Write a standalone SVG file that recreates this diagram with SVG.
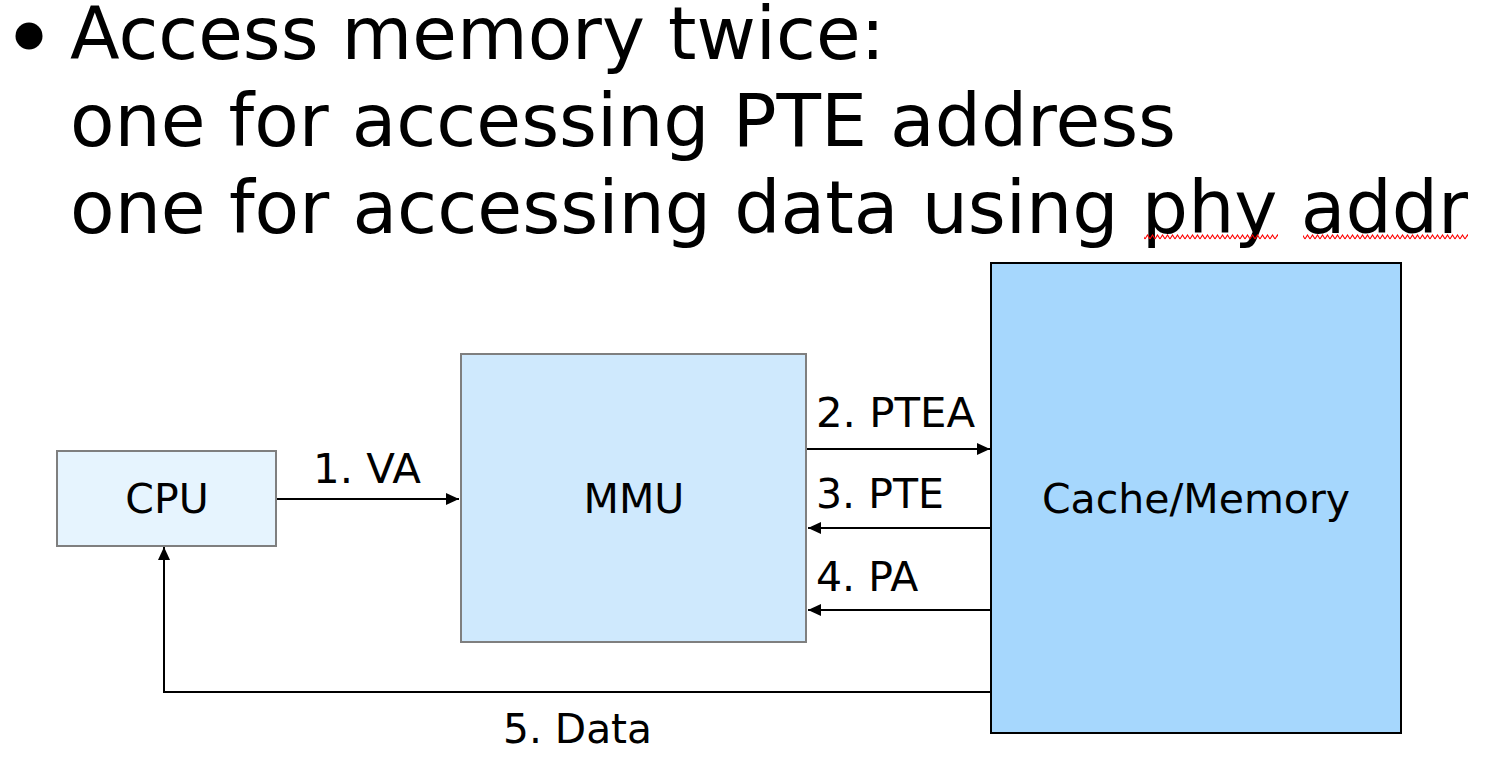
<svg xmlns="http://www.w3.org/2000/svg" width="1510" height="780" viewBox="0 0 1510 780">
  <style>
    .title { font-family: "DejaVu Sans", Verdana, sans-serif; font-size: 73px; fill: #000; }
    .lbl { font-family: "DejaVu Sans", Verdana, sans-serif; font-size: 41px; fill: #000; }
    .mid { text-anchor: middle; }
    .conn { stroke: #000; stroke-width: 2; fill: none; }
  </style>
  <defs>
    <marker id="arr" viewBox="0 0 13 12" refX="13" refY="6" markerWidth="13" markerHeight="12" markerUnits="userSpaceOnUse" orient="auto">
      <path d="M0,0 L13,6 L0,12 Z" fill="#000"/>
    </marker>
    <pattern id="zig" x="0" y="234" width="5" height="6" patternUnits="userSpaceOnUse">
      <path d="M0,5 L2.5,1 L5,5" stroke="#ff0000" stroke-width="1.1" fill="none"/>
    </pattern>
  </defs>
  <rect width="1510" height="780" fill="#ffffff"/>

  <g id="title">
    <circle cx="29" cy="36" r="13.5" fill="#000"/>
    <text class="title" x="70" y="59" textLength="815" lengthAdjust="spacingAndGlyphs">Access memory twice:</text>
    <text class="title" x="70" y="146" textLength="1106" lengthAdjust="spacingAndGlyphs">one for accessing PTE address</text>
    <text class="title" x="70" y="233" textLength="1398" lengthAdjust="spacingAndGlyphs">one for accessing data using phy addr</text>
    <rect x="1144" y="234" width="134" height="6" fill="url(#zig)"/>
    <rect x="1303" y="234" width="165" height="6" fill="url(#zig)"/>
  </g>

  <g id="cpu">
    <rect x="57" y="451" width="219" height="95" fill="#e6f4fe" stroke="#7f7f7f" stroke-width="2"/>
    <text class="lbl mid" x="167" y="513">CPU</text>
  </g>

  <g id="mmu">
    <rect x="461" y="354" width="345" height="288" fill="#cfe9fd" stroke="#7f7f7f" stroke-width="2"/>
    <text class="lbl mid" x="634" y="513">MMU</text>
  </g>

  <g id="memory">
    <rect x="991" y="263" width="410" height="470" fill="#a6d7fd" stroke="#000" stroke-width="2"/>
    <text class="lbl mid" x="1196" y="513">Cache/Memory</text>
  </g>

  <g id="connectors">
    <line class="conn" x1="277" y1="499" x2="459" y2="499" marker-end="url(#arr)"/>
    <line class="conn" x1="807" y1="449" x2="990" y2="449" marker-end="url(#arr)"/>
    <line class="conn" x1="990" y1="528" x2="808" y2="528" marker-end="url(#arr)"/>
    <line class="conn" x1="990" y1="610" x2="808" y2="610" marker-end="url(#arr)"/>
    <polyline class="conn" points="990,692 164,692 164,547" marker-end="url(#arr)"/>
    <text class="lbl" x="313" y="483" textLength="108" lengthAdjust="spacingAndGlyphs">1. VA</text>
    <text class="lbl" x="816" y="427" textLength="159" lengthAdjust="spacingAndGlyphs">2. PTEA</text>
    <text class="lbl" x="816" y="508">3. PTE</text>
    <text class="lbl" x="816" y="591">4. PA</text>
    <text class="lbl" x="503" y="743" textLength="149" lengthAdjust="spacingAndGlyphs">5. Data</text>
  </g>
</svg>
